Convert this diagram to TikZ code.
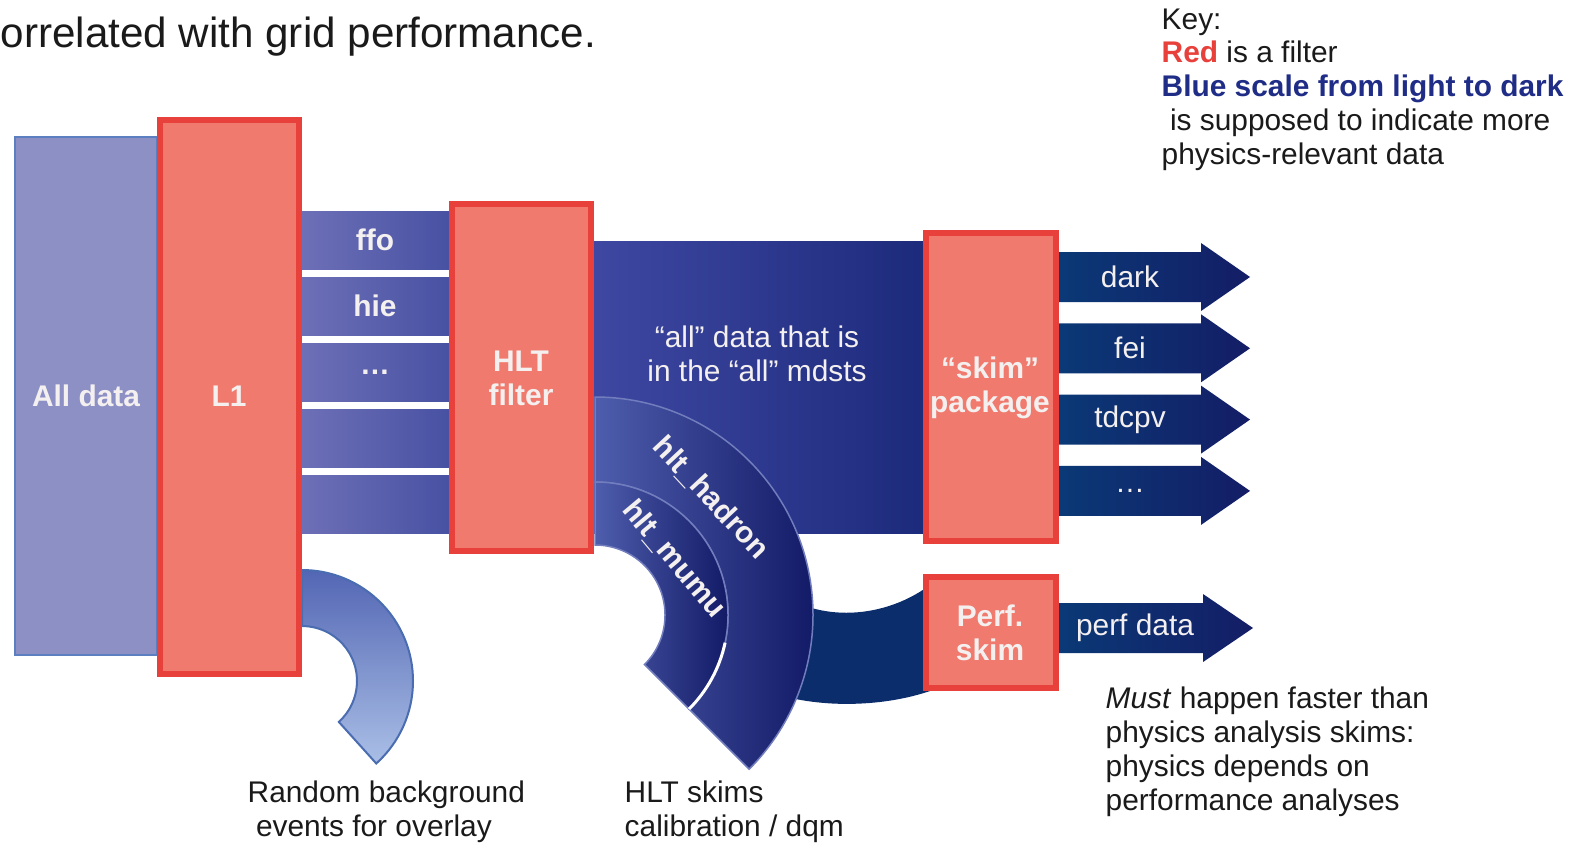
\documentclass[tikz,border=0pt]{standalone}
\usepackage{fontspec}
\setmainfont{Liberation Sans}
\usetikzlibrary{calc}
\usetikzlibrary{positioning}

\definecolor{boxred}{HTML}{F07A6E}
\definecolor{edgered}{HTML}{E8403A}
\definecolor{datablue}{HTML}{8D90C5}
\definecolor{dataedge}{HTML}{5B7FC0}
\definecolor{bandL}{HTML}{6F71B7}
\definecolor{bandR}{HTML}{4650A2}
\definecolor{allL}{HTML}{3F48A2}
\definecolor{allR}{HTML}{1C2A7B}
\definecolor{arcL}{HTML}{4E5DAD}
\definecolor{arcR}{HTML}{131B67}
\definecolor{arrL}{HTML}{0A3A77}
\definecolor{arrR}{HTML}{141D66}
\definecolor{perfnavy}{HTML}{0B2D6C}
\definecolor{rndtop}{HTML}{5366B4}
\definecolor{rndbot}{HTML}{AABFE6}
\definecolor{rndedge}{HTML}{4A6CB0}
\definecolor{labelwhite}{HTML}{F4F0F0}
\definecolor{keyblue}{HTML}{1F2D86}
\definecolor{inktext}{HTML}{1A1A1A}

\newcommand{\figsize}{\fontsize{8.5}{9.6}\selectfont}

\tikzstyle{redbox}=[fill=boxred,draw=edgered,line width=0.65mm]
\tikzstyle{databox}=[fill=datablue,draw=dataedge,line width=0.25mm]
\tikzstyle{lbl}=[text=labelwhite,font=\figsize\bfseries,align=center,inner sep=0]
\tikzstyle{thin lbl}=[lbl,font=\figsize]
\tikzstyle{note}=[text=inktext,font=\figsize,align=left,inner sep=0]
\tikzstyle{band}=[left color=bandL,right color=bandR]
\tikzstyle{arcband}=[left color=arcL,right color=arcR,draw=arcL!80!white,line width=0.15mm]
\tikzstyle{outarrow}=[left color=arrL,right color=arrR]

\begin{document}
\begin{tikzpicture}[x=0.1mm,y=0.1mm]
\useasboundingbox (0,0) rectangle (1593,-842);
\node[note,anchor=base west,font=\fontsize{12}{14}\selectfont] (head) at (0,-47) {orrelated with grid performance.};

% raw data
\draw[databox] (15,-137) rectangle (157,-655);
\node[lbl] (alldata) at (86,-396) {All data};

% streams out of L1
\foreach \i/\t in {0/ffo,1/hie,2/…,3/,4/}
{
\shade[band] (296,-211-66*\i) rectangle (455,-269-66*\i);
\node[lbl] (stream\i) at (375,-240-66*\i) {\t};
}

% random trigger events
\coordinate (rhub) at (302,-681);
\shade[top color=rndtop,bottom color=rndbot,draw=rndedge,line width=0.2mm]
  (302,-570) arc (90:-48:111) -- ($(rhub)+(-48:55)$) arc (-48:90:55) -- cycle;

% "all" stream
\shade[left color=allL,right color=allR] (588,-241) rectangle (930,-533);
\node[thin lbl] (alltext) at (757,-354) {“all” data that is\\in the “all” mdsts};

% stream to the performance skim
\fill[perfnavy] (770,-585) .. controls (810,-622) and (880,-622) .. (930,-585)
  -- (930,-691) .. controls (880,-708) and (815,-708) .. (770,-692) -- cycle;

% HLT skims
\coordinate (hub) at (595,-615);
\shade[arcband] (595,-397) arc (90:-45:218) -- ($(hub)+(-45:133)$) arc (-45:90:133) -- cycle;
\shade[arcband] (595,-482) arc (90:-45:133) -- ($(hub)+(-45:70)$) arc (-45:90:70) -- cycle;
\draw[white,line width=0.3mm] ($(hub)+(-12:133)$) arc (-12:-45:133);
\node[lbl,rotate=-47] (hadron) at (711,-498) {hlt\_hadron};
\node[lbl,rotate=-50] (mumu) at (674,-559) {hlt\_mumu};

% skim outputs
\foreach \i/\t in {0/dark,1/fei,2/tdcpv,3/…}
{
\pgfmathsetmacro\c{-277-71.3*\i}
\shade[outarrow] (1050,\c+25) -- (1201,\c+25) -- (1201,\c+34) -- (1250,\c)
  -- (1201,\c-34) -- (1201,\c-25) -- (1050,\c-25) -- cycle;
\node[thin lbl] (skim\i) at (1130,\c) {\t};
}
\shade[outarrow] (1050,-603) -- (1203,-603) -- (1203,-594) -- (1253,-628)
  -- (1203,-662) -- (1203,-653) -- (1050,-653) -- cycle;
\node[thin lbl] (perfdata) at (1135,-628) {perf data};

% filters
\draw[redbox] (160,-120) rectangle (299,-674);
\node[lbl] (l1) at (229,-396) {L1};
\draw[redbox] (452,-204) rectangle (591,-551);
\node[lbl] (hlt) at (521,-378) {HLT\\filter};
\draw[redbox] (926,-233) rectangle (1056,-541);
\node[lbl] (skimpkg) at (990,-388) {“skim”\\package};
\draw[redbox] (926,-577) rectangle (1056,-688);
\node[lbl] (perfskim) at (990,-633) {Perf.\\skim};

% notes (base = last line)
\node[note,anchor=base west] (random) at (247,-836) {Random background\\\ events for overlay};
\node[note,anchor=base west] (hltnote) at (624,-836) {HLT skims\\calibration / dqm};
\node[note,anchor=base west] (perfnote) at (1105,-810) {\textit{Must} happen faster than\\physics analysis skims:\\physics depends on\\performance analyses};
\node[note,anchor=base west] (key) at (1161,-164) {Key:\\{\color{edgered}\bfseries Red} is a filter\\{\color{keyblue}\bfseries Blue scale from light to dark}\\\ is supposed to indicate more\\physics-relevant data};
\end{tikzpicture}
\end{document}
